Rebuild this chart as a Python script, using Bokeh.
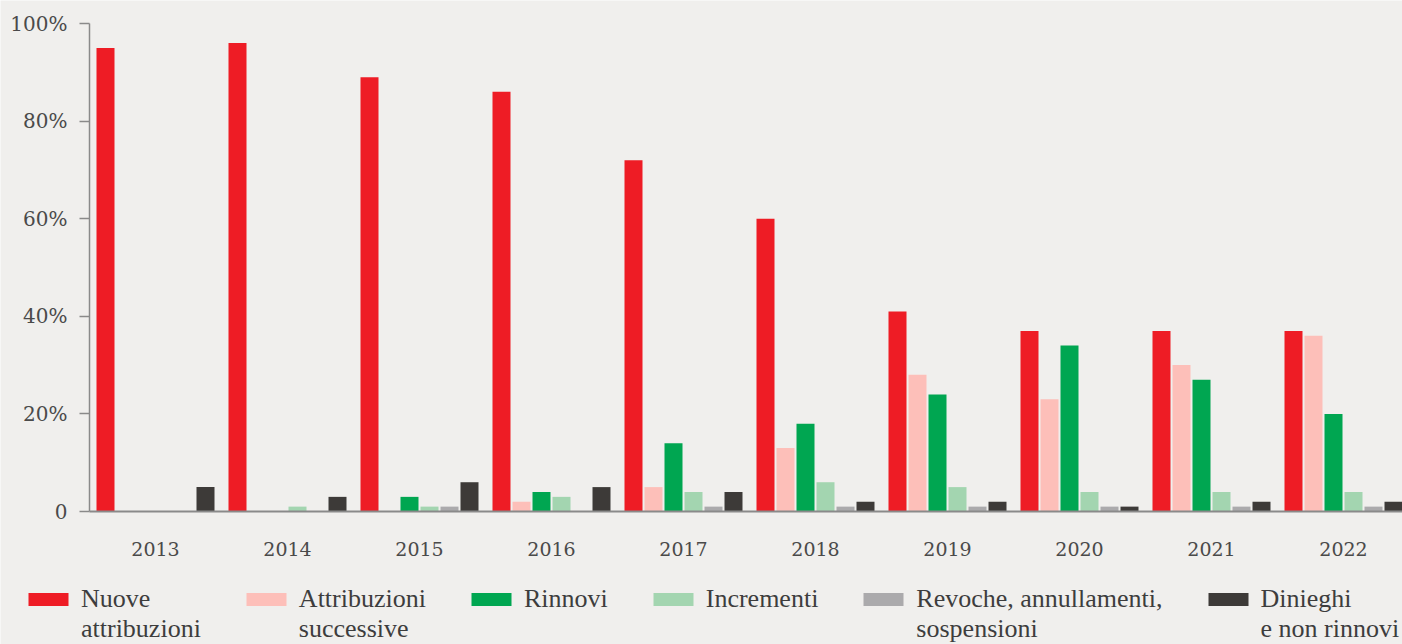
from bokeh.plotting import figure
from bokeh.models import ColumnDataSource, Range1d, FixedTicker, Legend, LegendItem
from bokeh.transform import dodge
from bokeh.embed import file_html
from bokeh.resources import INLINE

years = ["2013", "2014", "2015", "2016", "2017", "2018", "2019", "2020", "2021", "2022"]
nuove = [95, 96, 89, 86, 72, 60, 41, 37, 37, 37]
attribuzioni = [0, 0, 0, 2, 5, 13, 28, 23, 30, 36]
rinnovi = [0, 0, 3, 4, 14, 18, 24, 34, 27, 20]
incrementi = [0, 1, 1, 3, 4, 6, 5, 4, 4, 4]
revoche = [0, 0, 1, 0, 1, 1, 1, 1, 1, 1]
dinieghi = [5, 3, 6, 5, 4, 2, 2, 1, 2, 2]

series_names = ["Nuove\nattribuzioni", "Attribuzioni\nsuccessive", "Rinnovi", "Incrementi",
                "Revoche, annullamenti,\nsospensioni", "Dinieghi\ne non rinnovi"]
series_values = [nuove, attribuzioni, rinnovi, incrementi, revoche, dinieghi]
colors = ["#EE1C25", "#FDBFB9", "#00A651", "#A3D5B0", "#ABAAAC", "#3D3A38"]

y_ticks = [0, 20, 40, 60, 80, 100]
y_labels = ["0", "20%", "40%", "60%", "80%", "100%"]

BG = "#F0EFED"
idx = list(range(len(years)))
data = {"idx": idx}
for i, v in enumerate(series_values):
    data[f"s{i}"] = v
source = ColumnDataSource(data)

# layout constants (pixels)
W, H = 1402, 644
AX_LEFT, AX_TOP, AX_ZERO = 89, 23, 511
GROUP = 132
PX_PER_UNIT = (AX_ZERO - AX_TOP) / 100.0
offsets = [-50, -30, -10, 10, 30, 50]

x_start = -0.5 - AX_LEFT / GROUP
x_end = -0.5 + (W - AX_LEFT) / GROUP
y_start = -(H - AX_ZERO) / PX_PER_UNIT
y_end = 100 + AX_TOP / PX_PER_UNIT

p = figure(width=W, height=H, output_backend="svg", toolbar_location=None,
           x_range=Range1d(x_start, x_end), y_range=Range1d(y_start, y_end),
           min_border=0, min_border_left=0, min_border_right=0,
           min_border_top=0, min_border_bottom=0)
p.background_fill_color = BG
p.border_fill_color = BG
p.outline_line_color = None
p.xgrid.visible = False
p.ygrid.visible = False

renderers = []
for i, c in enumerate(colors):
    r = p.vbar(x=dodge("idx", offsets[i] / GROUP, range=p.x_range), top=f"s{i}", width=18 / GROUP,
               source=source, fill_color=c, line_color=None)
    renderers.append(r)

# x axis sitting on the zero line
p.xaxis.fixed_location = 0
p.xaxis.bounds = (-0.5, x_end)
p.xaxis.ticker = FixedTicker(ticks=idx)
p.xaxis.major_label_overrides = {i: y for i, y in enumerate(years)}
p.xaxis.major_tick_line_color = None
p.xaxis.minor_tick_line_color = None
p.xaxis.axis_line_color = "#8a8a8a"
p.xaxis.axis_line_width = 2
p.xaxis.major_label_standoff = 24
p.xaxis.major_label_text_font = "DejaVu Serif"
p.xaxis.major_label_text_font_size = "19px"
p.xaxis.major_label_text_color = "#4a4a4a"

# y axis at the left edge of the bar area
p.yaxis.fixed_location = -0.5
p.yaxis.bounds = (0, 100)
p.yaxis.ticker = FixedTicker(ticks=y_ticks)
p.yaxis.major_label_overrides = {t: l for t, l in zip(y_ticks, y_labels)}
p.yaxis.minor_tick_line_color = None
p.yaxis.major_tick_in = 0
p.yaxis.major_tick_out = 10
p.yaxis.major_tick_line_color = "#8a8a8a"
p.yaxis.major_tick_line_width = 1.5
p.yaxis.axis_line_color = "#8a8a8a"
p.yaxis.axis_line_width = 1.5
p.yaxis.major_label_standoff = 12
p.yaxis.major_label_text_font = "DejaVu Serif"
p.yaxis.major_label_text_font_size = "20px"
p.yaxis.major_label_text_color = "#4a4a4a"

# legend: a leading empty line keeps each swatch level with the first text line
items = [LegendItem(label="\n" + n if "\n" in n else n, renderers=[r])
         for n, r in zip(series_names, renderers)]
legend = Legend(items=items, orientation="horizontal", location=(23, 0),
                glyph_width=50, glyph_height=16, label_standoff=8, spacing=40,
                padding=0, margin=0, border_line_color=None, background_fill_alpha=0,
                label_text_font="Liberation Serif", label_text_font_size="26px",
                label_text_color="#3d3d3d", label_text_line_height=0.74)
p.add_layout(legend, "center")

open("out.html", "w").write(file_html(p, INLINE))
